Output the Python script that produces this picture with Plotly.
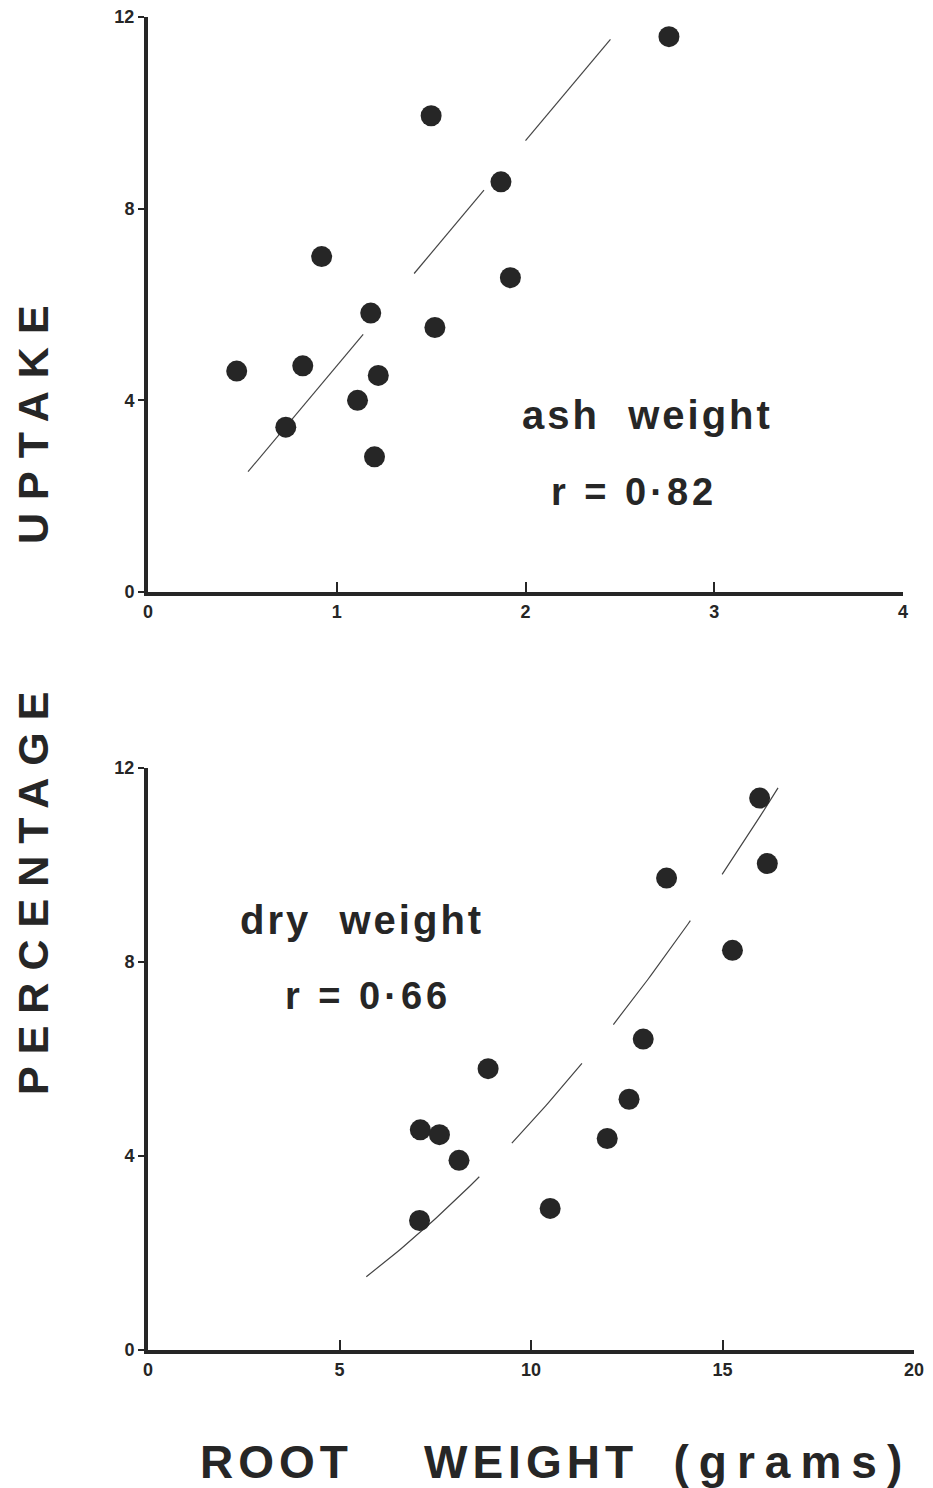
import plotly.graph_objects as go
import numpy as np

# ---- data: ash weight panel (top) ----
ash_x = [0.47, 0.73, 0.82, 0.92, 1.11, 1.18, 1.22, 1.20, 1.50, 1.52, 1.87, 1.92, 2.76]
ash_y = [4.61, 3.44, 4.72, 7.00, 4.00, 5.82, 4.52, 2.82, 9.94, 5.52, 8.56, 6.56, 11.59]
ash_fit_intercept = 0.02
ash_fit_slope = 4.70
ash_fit_segments = [(0.53, 1.14), (1.41, 1.78), (2.00, 2.45)]

# ---- data: dry weight panel (bottom) ----
dry_x = [7.09, 7.11, 7.61, 8.12, 8.88, 10.50, 11.99, 12.56, 12.93, 13.54, 15.26, 15.97, 16.17]
dry_y = [2.67, 4.54, 4.44, 3.91, 5.80, 2.92, 4.36, 5.17, 6.41, 9.73, 8.24, 11.38, 10.03]
dry_fit_coef = [-0.966, 0.26, 0.0306]  # a + b x + c x^2
dry_fit_segments = [(5.7, 8.65), (9.5, 11.33), (12.15, 14.16), (14.99, 16.45)]

top_xticks = [0, 1, 2, 3, 4]
bot_xticks = [0, 5, 10, 15, 20]
yticks = [0, 4, 8, 12]

INK = "#262626"
FONT = "Liberation Sans"


def seg_line(segments, fn, n=30):
    xs, ys = [], []
    for a, b in segments:
        xx = np.linspace(a, b, n)
        xs += list(xx) + [None]
        ys += [fn(v) for v in xx] + [None]
    return xs, ys


fig = go.Figure()

# top fit line
lx, ly = seg_line(ash_fit_segments, lambda v: ash_fit_intercept + ash_fit_slope * v, 2)
fig.add_trace(go.Scatter(x=lx, y=ly, mode="lines", line=dict(color="#444", width=1.2),
                         xaxis="x", yaxis="y", hoverinfo="skip", showlegend=False))
fig.add_trace(go.Scatter(x=ash_x, y=ash_y, mode="markers",
                         marker=dict(size=21, color=INK), xaxis="x", yaxis="y", showlegend=False))

# bottom fit curve
a, b, c = dry_fit_coef
lx2, ly2 = seg_line(dry_fit_segments, lambda v: a + b * v + c * v * v)
fig.add_trace(go.Scatter(x=lx2, y=ly2, mode="lines", line=dict(color="#444", width=1.2),
                         xaxis="x2", yaxis="y2", hoverinfo="skip", showlegend=False))
fig.add_trace(go.Scatter(x=dry_x, y=dry_y, mode="markers",
                         marker=dict(size=21, color=INK), xaxis="x2", yaxis="y2", showlegend=False))

W, H = 933, 1488


def px(v):
    return v / W


def py(v):
    return 1 - v / H


tickfont = dict(family=FONT, size=18, color=INK, weight="bold")
common_x = dict(showgrid=False, zeroline=False, showline=True, linewidth=4, linecolor=INK,
                ticks="inside", ticklen=10, tickwidth=2, tickcolor=INK, tickfont=tickfont,
                fixedrange=True, automargin=False)
common_y = dict(showgrid=False, zeroline=False, showline=True, linewidth=4, linecolor=INK,
                ticks="outside", ticklen=6, tickwidth=2, tickcolor=INK, tickfont=tickfont,
                fixedrange=True, tickvals=yticks, range=[0, 12], automargin=False)

fig.update_layout(
    width=W, height=H,
    margin=dict(l=0, r=0, t=0, b=0, autoexpand=False),
    paper_bgcolor="white", plot_bgcolor="white",
    xaxis=dict(common_x, domain=[px(148), px(903)], range=[0, 4], tickvals=top_xticks,
               anchor="y"),
    yaxis=dict(common_y, domain=[py(592), py(17)], anchor="x"),
    xaxis2=dict(common_x, domain=[px(148), px(914)], range=[0, 20], tickvals=bot_xticks,
                anchor="y2"),
    yaxis2=dict(common_y, domain=[py(1350), py(768)], anchor="x2"),
)

label_font = dict(family=FONT, size=40, color=INK, weight="bold")
r_font = dict(family=FONT, size=38, color=INK, weight="bold")
title_font = dict(family=FONT, size=43, color=INK, weight="bold")
xtitle_font = dict(family=FONT, size=46, color=INK, weight="bold")


def spaced(txt, px_):
    return f'<span style="letter-spacing:{px_}px">{txt}</span>'


ann = [
    dict(text=spaced("ash  weight", 3), x=px(647), y=py(415), font=label_font),
    dict(text=spaced("r = 0·82", 4), x=px(634), y=py(492), font=r_font),
    dict(text=spaced("dry  weight", 3), x=px(362), y=py(920), font=label_font),
    dict(text=spaced("r = 0·66", 4), x=px(368), y=py(996), font=r_font),
    dict(text=spaced("UPTAKE", 13), x=px(33), y=py(418), font=title_font, textangle=-90),
    dict(text=spaced("PERCENTAGE", 12), x=px(33), y=py(888), font=title_font, textangle=-90),
    dict(text=spaced("ROOT    WEIGHT  ", 5) + spaced("(grams)", 10),
         x=px(556), y=py(1462), font=xtitle_font),
]
for d in ann:
    d.update(xref="paper", yref="paper", showarrow=False, xanchor="center", yanchor="middle")
    fig.add_annotation(**d)

fig.write_html("out.html")
